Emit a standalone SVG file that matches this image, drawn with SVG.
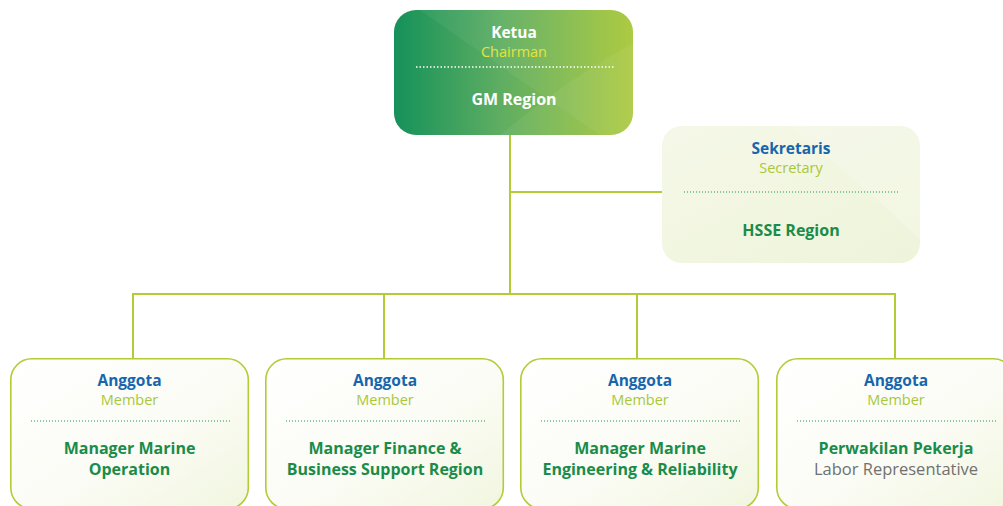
<svg xmlns="http://www.w3.org/2000/svg" width="1003" height="506" viewBox="0 0 1003 506">
  <defs>
    <linearGradient id="gTop" x1="0" y1="0" x2="1" y2="0">
      <stop offset="0" stop-color="#15915a"/>
      <stop offset="0.45" stop-color="#5fae62"/>
      <stop offset="1" stop-color="#a9c838"/>
    </linearGradient>
    <linearGradient id="gLight" x1="0" y1="0" x2="1" y2="1">
      <stop offset="0" stop-color="#ffffff"/>
      <stop offset="0.55" stop-color="#fbfcf5"/>
      <stop offset="1" stop-color="#f1f6df"/>
    </linearGradient>
    <linearGradient id="gSec" x1="0" y1="0" x2="1" y2="1">
      <stop offset="0" stop-color="#f5f8e8"/>
      <stop offset="1" stop-color="#eef4da"/>
    </linearGradient>
    <clipPath id="cTop"><rect x="394" y="10" width="239" height="125" rx="22"/></clipPath>
    <clipPath id="cSec"><rect x="662" y="126" width="258" height="137" rx="20"/></clipPath>
  </defs>
  <style>
    .conn { stroke: #b2cc35; stroke-width: 2; fill: none; }
    .box { fill: url(#gLight); stroke: #b2cc35; stroke-width: 1.6; }
    .t { font-family: "Open Sans", "Noto Sans", sans-serif; text-anchor: middle; }
    .role { font-size: 15.5px; font-weight: 700; fill: #1766ad; }
    .sub { font-size: 14.5px; fill: #a9c73a; }
    .name { font-size: 16px; font-weight: 700; fill: #1a8c4a; }
    .grey { font-size: 16.5px; fill: #707070; }
    .dotg { stroke: #1a9457; stroke-width: 1.2; stroke-dasharray: 1 2; }
    .dotw { stroke: #ffffff; stroke-width: 1.5; stroke-dasharray: 1.5 2; }
  </style>

  <g id="connectors">
    <line class="conn" x1="510" y1="135" x2="510" y2="294"/>
    <line class="conn" x1="510" y1="192" x2="663" y2="192"/>
    <line class="conn" x1="132" y1="294" x2="896" y2="294"/>
    <line class="conn" x1="133" y1="293" x2="133" y2="358"/>
    <line class="conn" x1="384" y1="293" x2="384" y2="358"/>
    <line class="conn" x1="637" y1="293" x2="637" y2="358"/>
    <line class="conn" x1="895" y1="293" x2="895" y2="358"/>
  </g>

  <g id="chairman">
    <rect x="394" y="10" width="239" height="125" rx="22" fill="url(#gTop)"/>
    <g clip-path="url(#cTop)">
      <path d="M420 10 Q520 80 600 135 L633 135 L633 10 Z" fill="#ffffff" opacity="0.05"/>
      <path d="M500 135 Q580 70 640 40 L640 135 Z" fill="#ffffff" opacity="0.06"/>
    </g>
    <text class="t" x="514" y="38" font-size="15.5" font-weight="700" fill="#ffffff">Ketua</text>
    <text class="t" x="514" y="57" font-size="14.5" fill="#e8e33a">Chairman</text>
    <line class="dotw" x1="416" y1="67" x2="615" y2="67"/>
    <text class="t" x="514" y="105" font-size="16" font-weight="700" fill="#ffffff">GM Region</text>
  </g>

  <g id="secretary">
    <rect x="662" y="126" width="258" height="137" rx="20" fill="url(#gSec)"/>
    <g clip-path="url(#cSec)">
      <path d="M790 126 Q870 190 930 250 L930 120 Z" fill="#ffffff" opacity="0.2"/>
    </g>
    <text class="t role" x="791" y="154">Sekretaris</text>
    <text class="t sub" x="791" y="173">Secretary</text>
    <line class="dotg" x1="684" y1="192" x2="900" y2="192"/>
    <text class="t name" x="791" y="236">HSSE Region</text>
  </g>

  <g id="member1">
    <rect class="box" x="10.8" y="358.8" width="237.5" height="150" rx="21"/>
    <text class="t role" x="129.5" y="386">Anggota</text>
    <text class="t sub" x="129.5" y="405">Member</text>
    <line class="dotg" x1="31" y1="421" x2="230" y2="421"/>
    <text class="t name" x="129.5" y="454">Manager Marine</text>
    <text class="t name" x="129.5" y="475">Operation</text>
  </g>

  <g id="member2">
    <rect class="box" x="265.8" y="358.8" width="237.5" height="150" rx="21"/>
    <text class="t role" x="385" y="386">Anggota</text>
    <text class="t sub" x="385" y="405">Member</text>
    <line class="dotg" x1="286" y1="421" x2="485" y2="421"/>
    <text class="t name" x="385" y="454">Manager Finance &amp;</text>
    <text class="t name" x="385" y="475">Business Support Region</text>
  </g>

  <g id="member3">
    <rect class="box" x="520.8" y="358.8" width="237.5" height="150" rx="21"/>
    <text class="t role" x="640" y="386">Anggota</text>
    <text class="t sub" x="640" y="405">Member</text>
    <line class="dotg" x1="541" y1="421" x2="740" y2="421"/>
    <text class="t name" x="640" y="454">Manager Marine</text>
    <text class="t name" x="640" y="475">Engineering &amp; Reliability</text>
  </g>

  <g id="member4">
    <rect class="box" x="776.8" y="358.8" width="237.5" height="150" rx="21"/>
    <text class="t role" x="896" y="386">Anggota</text>
    <text class="t sub" x="896" y="405">Member</text>
    <line class="dotg" x1="797" y1="421" x2="996" y2="421"/>
    <text class="t name" x="896" y="454">Perwakilan Pekerja</text>
    <text class="t grey" x="896" y="475">Labor Representative</text>
  </g>
</svg>
